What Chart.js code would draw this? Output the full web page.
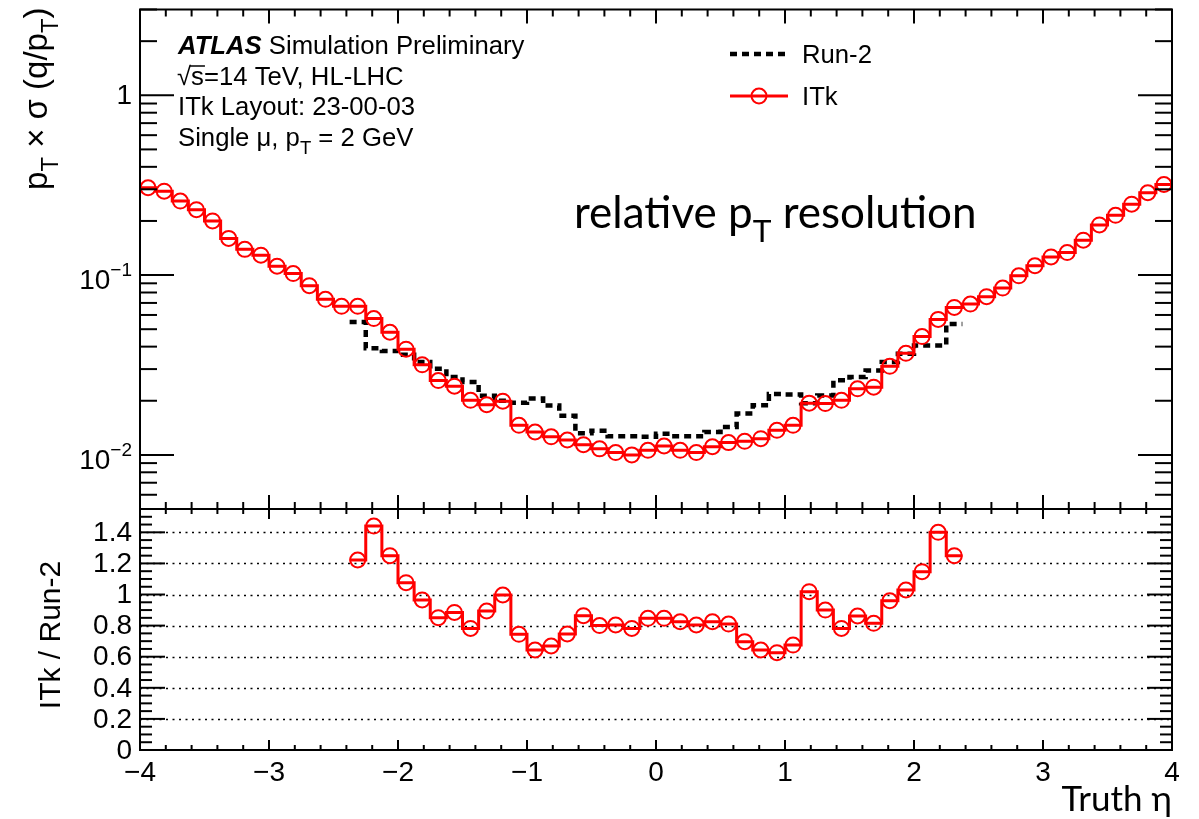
<!DOCTYPE html>
<html>
<head>
<meta charset="utf-8">
<title>Relative pT resolution vs truth eta</title>
<script src="https://cdn.jsdelivr.net/npm/chart.js@4.4.1/dist/chart.umd.min.js"></script>
<style>
  html, body { margin: 0; padding: 0; background: #fff; }
  #wrap { position: relative; width: 1199px; height: 819px; background: #fff; overflow: hidden; }
  #wrap canvas { position: absolute; left: 0; top: 0; }
</style>
</head>
<body>
<div id="wrap">
  <canvas id="resCanvas" width="1199" height="819"></canvas>
  <canvas id="ratioCanvas" width="1199" height="819"></canvas>
</div>
<script>
// ---- binning (truth eta, 64 bins of 0.125 from -4 to 4) ----
const etaMin = -4;
const etaMax = 4;
const etaBinWidth = 0.125;

// relative pT resolution, ITk layout 23-00-03, one value per eta bin
const itkResolution = [
  0.306, 0.293, 0.258, 0.231, 0.200, 0.160, 0.139, 0.129, 0.112, 0.102,
  0.0873, 0.0733, 0.0670, 0.0670, 0.0573, 0.0481, 0.0387, 0.0317, 0.0259, 0.0241,
  0.0201, 0.0190, 0.0199, 0.0146, 0.0134, 0.0126, 0.0121, 0.0114, 0.0108, 0.0103,
  0.0100, 0.0106, 0.0112, 0.0106, 0.0103, 0.0111, 0.0117, 0.0119, 0.0123, 0.0137,
  0.0146, 0.0194, 0.0193, 0.0201, 0.0233, 0.0238, 0.0311, 0.0367, 0.0455, 0.0567,
  0.0661, 0.0690, 0.0758, 0.0847, 0.0991, 0.1127, 0.1262, 0.1334, 0.1563, 0.190,
  0.215, 0.248, 0.287, 0.319
];

// Run-2 detector covers |eta| < 2.375: bins 13..50
const run2FirstBin = 13;
const run2Resolution = [
  0.0548, 0.0392, 0.0378, 0.0360, 0.0328, 0.0301, 0.0271, 0.0254, 0.0213, 0.0200,
  0.0195, 0.0206, 0.0188, 0.0165, 0.0132, 0.0136, 0.0127, 0.0127, 0.0126, 0.0131,
  0.0127, 0.0127, 0.0134, 0.0143, 0.0170, 0.0189, 0.0218, 0.0217, 0.0194, 0.0214,
  0.0260, 0.0271, 0.0295, 0.0328, 0.0365, 0.0406, 0.0406, 0.0535
];

// ITk / Run-2 ratio over the same bins
const ratioValues = [
  1.222, 1.440, 1.250, 1.076, 0.965, 0.851, 0.885, 0.782, 0.894, 0.997,
  0.744, 0.643, 0.669, 0.746, 0.864, 0.800, 0.804, 0.782, 0.847, 0.847,
  0.825, 0.804, 0.825, 0.810, 0.697, 0.643, 0.626, 0.675, 1.018, 0.900,
  0.782, 0.862, 0.815, 0.960, 1.029, 1.147, 1.400, 1.250
];

// axis ticks and labels
const etaTicks = [-4, -3, -2, -1, 0, 1, 2, 3, 4];
const etaTickLabels = ['\u22124', '\u22123', '\u22122', '\u22121', '0', '1', '2', '3', '4'];
const ratioTicks = [0, 0.2, 0.4, 0.6, 0.8, 1, 1.2, 1.4];
const ratioTickLabels = ['0', '0.2', '0.4', '0.6', '0.8', '1', '1.2', '1.4'];
const resMin = 0.005, resMax = 3;
const ratioMin = 0, ratioMax = 1.55;

// ---- helpers building histogram shapes from the arrays ----
function stepPoints(firstBin, values) {
  const pts = values.map((v, i) => ({ x: etaMin + (firstBin + i) * etaBinWidth, y: v }));
  pts.push({ x: etaMin + (firstBin + values.length) * etaBinWidth, y: values[values.length - 1] });
  return pts;
}
function centrePoints(firstBin, values) {
  return values.map((v, i) => ({ x: etaMin + (firstBin + i + 0.5) * etaBinWidth, y: v }));
}

const HELV = '"Liberation Sans", Arial, Helvetica, sans-serif';
const CALI = 'Lato, "Open Sans", sans-serif';
const RED = '#ff0000';

// rich text: parts are [text, mode, style] with mode '', 'sub' or 'sup'
function partFont(size, mode, style, family) {
  const fs = mode === 'sub' ? size * 0.72 : (mode === 'sup' ? size * 0.68 : size);
  return (style || '') + ' ' + fs.toFixed(1) + 'px ' + family;
}
function richWidth(ctx, parts, size, family) {
  let w = 0;
  for (const [t, mode, style] of parts) { ctx.font = partFont(size, mode, style, family); w += ctx.measureText(t).width; }
  return w;
}
function drawRich(ctx, parts, x, y, size, family, align) {
  const total = richWidth(ctx, parts, size, family);
  let cx = align === 'right' ? x - total : (align === 'center' ? x - total / 2 : x);
  ctx.textAlign = 'left';
  ctx.textBaseline = 'alphabetic';
  for (const [t, mode, style] of parts) {
    ctx.font = partFont(size, mode, style, family);
    const dy = mode === 'sub' ? size * 0.32 : (mode === 'sup' ? -size * 0.45 : 0);
    ctx.fillText(t, cx, y + dy);
    cx += ctx.measureText(t).width;
  }
  return total;
}
function seg(ctx, x1, y1, x2, y2) {
  ctx.beginPath(); ctx.moveTo(x1, y1); ctx.lineTo(x2, y2); ctx.stroke();
}
function drawEtaTicks(ctx, xs, area, majorLen, minorLen, atTop, atBottom) {
  for (let k = 0; k <= 40; k++) {
    const v = etaMin + k * 0.2;
    const px = xs.getPixelForValue(v);
    const len = k % 5 === 0 ? majorLen : minorLen;
    if (atTop) seg(ctx, px, area.top, px, area.top + len);
    if (atBottom) seg(ctx, px, area.bottom, px, area.bottom - len);
  }
}

// ---- plugin: frame, ticks, labels and captions of the resolution panel ----
const resolutionDecor = {
  id: 'resolutionDecor',
  afterDraw(chart) {
    const ctx = chart.ctx, a = chart.chartArea, xs = chart.scales.x, ys = chart.scales.y;
    ctx.save();
    ctx.strokeStyle = '#000';
    ctx.fillStyle = '#000';
    ctx.lineWidth = 2;
    ctx.setLineDash([]);
    drawEtaTicks(ctx, xs, a, 14, 7, true, true);
    for (let d = -3; d <= 0; d++) {
      for (let m = 1; m <= 9; m++) {
        const v = m * Math.pow(10, d);
        if (v < resMin * 0.999 || v > resMax * 1.001) continue;
        const py = ys.getPixelForValue(v);
        const len = m === 1 ? 34 : 17;
        seg(ctx, a.left, py, a.left + len, py);
        seg(ctx, a.right, py, a.right - len, py);
      }
    }
    ctx.strokeRect(a.left, a.top, a.right - a.left, a.bottom - a.top);

    // y tick labels (decades)
    const labelRight = a.left - 8;
    ctx.font = '28px ' + HELV;
    ctx.textAlign = 'right';
    ctx.textBaseline = 'middle';
    ctx.fillText('1', labelRight, ys.getPixelForValue(1) + 1);
    for (const [val, exp] of [[0.1, '\u22121'], [0.01, '\u22122']]) {
      const py = ys.getPixelForValue(val);
      drawRich(ctx, [['10', ''], [exp, 'sup']], labelRight, py + 14, 28, HELV, 'right');
    }

    // y axis title, rotated, flush with the top of the axis
    ctx.save();
    ctx.translate(47, a.top - 2);
    ctx.rotate(-Math.PI / 2);
    drawRich(ctx, [['p', ''], ['T', 'sub'], [' \u00d7 \u03c3 (q/p', ''], ['T', 'sub'], [')', '']], 0, 0, 33, HELV, 'right');
    ctx.restore();

    // experiment caption
    const tx = 178;
    const fs = 25.7;
    ctx.font = 'italic bold ' + fs + 'px ' + HELV;
    ctx.textAlign = 'left';
    ctx.textBaseline = 'alphabetic';
    ctx.fillText('ATLAS', tx, 54);
    const wAtlas = ctx.measureText('ATLAS ').width;
    ctx.font = fs + 'px ' + HELV;
    ctx.fillText('Simulation Preliminary', tx + wAtlas, 54);
    // sqrt(s) with overline
    ctx.fillText('\u221a', tx - 1, 85);
    const wRoot = ctx.measureText('\u221a').width;
    ctx.fillText('s=14 TeV, HL-LHC', tx - 1 + wRoot, 85);
    const wS = ctx.measureText('s').width;
    ctx.lineWidth = 1.5;
    seg(ctx, tx - 1 + wRoot - 1, 66, tx - 1 + wRoot + wS + 1, 66);
    ctx.fillText('ITk Layout: 23-00-03', tx, 115);
    drawRich(ctx, [['Single \u03bc, p', ''], ['T', 'sub'], [' = 2 GeV', '']], tx, 146, fs, HELV, 'left');

    // legend
    const lx0 = 730, lx1 = 788;
    ctx.strokeStyle = '#000';
    ctx.lineWidth = 4.5;
    ctx.setLineDash([7, 5]);
    seg(ctx, lx0, 54, lx1, 54);
    ctx.setLineDash([]);
    ctx.strokeStyle = RED;
    ctx.lineWidth = 3;
    seg(ctx, lx0, 96, lx1, 96);
    ctx.lineWidth = 2;
    ctx.beginPath(); ctx.arc((lx0 + lx1) / 2, 96, 7.5, 0, Math.PI * 2); ctx.stroke();
    ctx.fillStyle = '#000';
    ctx.font = fs + 'px ' + HELV;
    ctx.fillText('Run-2', 802, 63);
    ctx.fillText('ITk', 802, 105);

    // panel caption
    drawRich(ctx, [['relative p', ''], ['T', 'sub'], [' resolution', '']], 574, 228, 44, CALI, 'left');
    ctx.restore();
  }
};

// ---- plugin: grid, frame, ticks and labels of the ratio panel ----
const ratioDecor = {
  id: 'ratioDecor',
  beforeDatasetsDraw(chart) {
    const ctx = chart.ctx, a = chart.chartArea, ys = chart.scales.y;
    ctx.save();
    ctx.strokeStyle = '#000';
    ctx.lineWidth = 1.6;
    ctx.setLineDash([2, 4.5]);
    for (const t of ratioTicks) {
      if (t <= ratioMin) continue;
      const py = Math.round(ys.getPixelForValue(t)) + 0.5;
      seg(ctx, a.left, py, a.right, py);
    }
    ctx.restore();
  },
  afterDraw(chart) {
    const ctx = chart.ctx, a = chart.chartArea, xs = chart.scales.x, ys = chart.scales.y;
    ctx.save();
    ctx.strokeStyle = '#000';
    ctx.fillStyle = '#000';
    ctx.lineWidth = 2;
    ctx.setLineDash([]);
    drawEtaTicks(ctx, xs, a, 10, 5, true, true);
    for (let k = 0; k * 0.05 <= ratioMax + 1e-9; k++) {
      const py = ys.getPixelForValue(k * 0.05);
      const len = k % 4 === 0 ? 25 : 12;
      seg(ctx, a.left, py, a.left + len, py);
      seg(ctx, a.right, py, a.right - len, py);
    }
    ctx.strokeRect(a.left, a.top, a.right - a.left, a.bottom - a.top);

    ctx.font = '28px ' + HELV;
    ctx.textAlign = 'right';
    ctx.textBaseline = 'middle';
    ratioTicks.forEach((t, i) => ctx.fillText(ratioTickLabels[i], a.left - 8, ys.getPixelForValue(t) + 1));

    ctx.textAlign = 'center';
    ctx.textBaseline = 'alphabetic';
    etaTicks.forEach((t, i) => ctx.fillText(etaTickLabels[i], xs.getPixelForValue(t), a.bottom + 31));

    // axis titles
    ctx.save();
    ctx.translate(60, 635);
    ctx.rotate(-Math.PI / 2);
    ctx.font = '30px ' + HELV;
    ctx.textAlign = 'center';
    ctx.fillText('ITk / Run-2', 0, 0);
    ctx.restore();

    ctx.font = '35px ' + CALI;
    ctx.textAlign = 'right';
    ctx.fillText('Truth \u03b7', a.right, 811);
    ctx.restore();
  }
};

const commonOptions = {
  responsive: false,
  animation: false,
  devicePixelRatio: 1,
  events: [],
  plugins: { legend: { display: false }, tooltip: { enabled: false } }
};

function histLine(points, color, width, dash) {
  return {
    data: points, stepped: true, borderColor: color, borderWidth: width,
    borderDash: dash || [], pointRadius: 0, fill: false, tension: 0
  };
}
function markers(points) {
  return {
    data: points, showLine: false, pointStyle: 'circle', pointRadius: 7.5,
    pointBorderWidth: 2, pointBorderColor: RED, pointBackgroundColor: 'rgba(0,0,0,0)'
  };
}

// resolution panel
new Chart(document.getElementById('resCanvas'), {
  type: 'line',
  data: {
    datasets: [
      markers(centrePoints(0, itkResolution)),
      histLine(stepPoints(0, itkResolution), RED, 3),
      histLine(stepPoints(run2FirstBin, run2Resolution), '#000', 4.5, [7, 5])
    ]
  },
  options: Object.assign({}, commonOptions, {
    layout: { padding: { left: 140, right: 27, top: 8, bottom: 310 } },
    scales: {
      x: { type: 'linear', min: etaMin, max: etaMax, display: false },
      y: { type: 'logarithmic', min: resMin, max: resMax, display: false }
    }
  }),
  plugins: [resolutionDecor]
});

// ratio panel
new Chart(document.getElementById('ratioCanvas'), {
  type: 'line',
  data: {
    datasets: [
      markers(centrePoints(run2FirstBin, ratioValues)),
      histLine(stepPoints(run2FirstBin, ratioValues), RED, 3)
    ]
  },
  options: Object.assign({}, commonOptions, {
    layout: { padding: { left: 140, right: 27, top: 509, bottom: 69 } },
    scales: {
      x: { type: 'linear', min: etaMin, max: etaMax, display: false },
      y: { type: 'linear', min: ratioMin, max: ratioMax, display: false }
    }
  }),
  plugins: [ratioDecor]
});
</script>
</body>
</html>
